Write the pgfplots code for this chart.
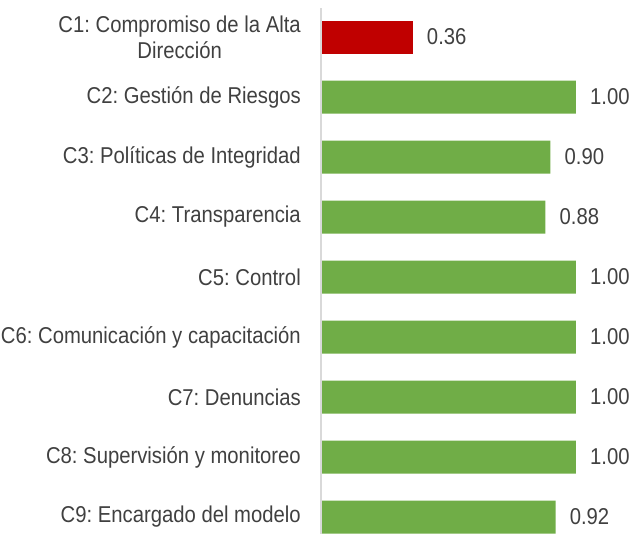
\documentclass[border=0pt]{standalone}
\usepackage{pgfplots}
\pgfplotsset{compat=1.18}
\usepackage{fontspec}
\setmainfont{Liberation Sans}[FakeStretch=0.885]
\frenchspacing
\definecolor{barred}{HTML}{C00000}
\definecolor{bargreen}{HTML}{70AD47}
\definecolor{txt}{HTML}{404040}
\definecolor{axgray}{HTML}{D9D9D9}
\begin{document}
\begin{tikzpicture}
\begin{axis}[
  name=ax,
  scale only axis,
  width=319bp, height=534bp,
  xmin=0, xmax=1.251,
  ymin=-0.617, ymax=8.283,
  y dir=reverse,
  xbar, bar width=33bp, bar shift=0pt,
  axis line style={draw=none},
  xtick=\empty,
  ytick={0,...,8},
  yticklabels={{C1: Compromiso de la Alta\\Dirección},C2: Gestión de Riesgos,C3: Políticas de Integridad,C4: Transparencia,C5: Control,C6: Comunicación y capacitación,C7: Denuncias,C8: Supervisión y monitoreo,C9: Encargado del modelo},
  major tick length=0pt,
  ytick style={draw=none},
  yticklabel style={align=center, inner sep=0pt, xshift=-20bp, text=txt,
    font=\fontsize{23}{26}\selectfont},
  nodes near coords,
  point meta=x,
  nodes near coords style={anchor=west, inner sep=0pt, xshift=14bp, text=txt,
    font=\fontsize{23}{26}\selectfont,
    /pgf/number format/.cd, fixed, fixed zerofill, precision=2, assume math mode=true},
  clip=false,
]
\addplot[draw=none, fill=barred] coordinates {(0.36,0)};
\addplot[draw=none, fill=bargreen] coordinates {(1.00,1) (0.90,2) (0.88,3) (1.00,4) (1.00,5) (1.00,6) (1.00,7) (0.92,8)};
\draw[axgray, line width=1.2bp] (axis cs:0,-0.483) -- (axis cs:0,8.283);
\end{axis}
\pgfresetboundingbox
\path ([xshift=-321bp]ax.south west) rectangle (ax.north east);
\end{tikzpicture}
\end{document}
